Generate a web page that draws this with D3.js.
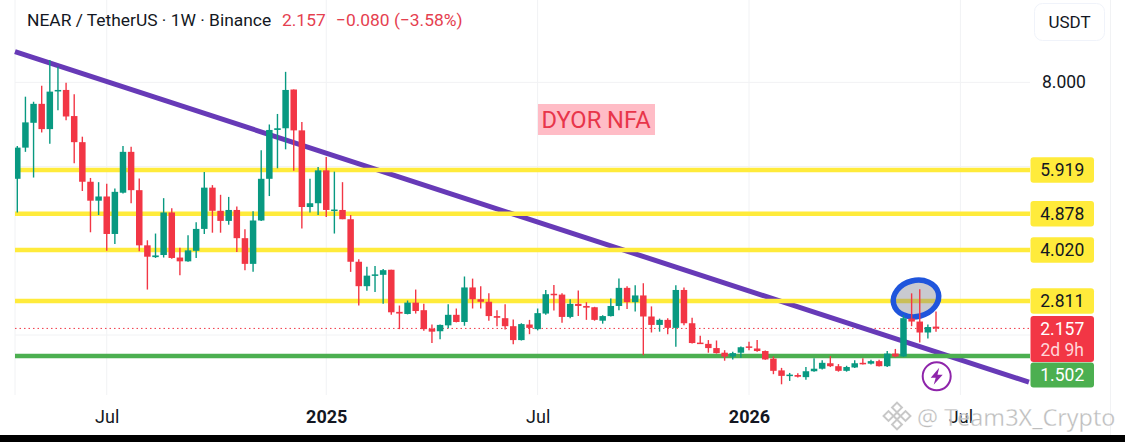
<!DOCTYPE html>
<html>
<head>
<meta charset="utf-8">
<script src="https://cdn.jsdelivr.net/npm/d3@7"></script>
<style>
	html, body {margin: 0; padding: 0; background: #fff; overflow: hidden;}
	text {font-family: Roboto, sans-serif;}
	.axis path {display: none;}
</style>
</head>
<body>
<div id="chart"></div>
<script>
var opens = [5.71,6.45,7.04,7.49,6.89,7.79,7.82,7.20,6.58,5.64,
	5.19,5.29,4.40,5.38,6.35,5.44,4.13,3.85,3.90,4.91,
	3.84,3.75,4.00,4.52,5.50,4.95,4.71,4.97,4.30,3.69,
	4.72,5.71,6.87,6.91,7.83,6.86,5.04,5.13,5.91,4.96,
	4.97,4.75,3.74,3.16,3.42,3.43,3.55,2.55,2.50,2.77,
	2.59,2.15,2.09,2.23,2.48,2.31,3.13,2.85,2.79,2.45,
	2.40,2.21,1.88,2.25,2.14,2.51,2.98,2.96,2.43,2.74,
	2.69,2.66,2.34,2.45,2.69,3.12,2.78,2.94,2.44,2.24,
	2.36,2.17,3.07,2.28,1.82,1.79,1.69,1.58,1.49,1.58,
	1.73,1.68,1.62,1.44,1.16,1.04,1.05,1.00,1.14,1.20,
	1.33,1.26,1.15,1.23,1.34,1.32,1.38,1.26,1.56,1.49,
	2.39,2.32,2.06,2.20]

var highs = [6.49,7.66,7.54,7.92,8.53,8.37,7.99,7.72,6.71,5.73,
	5.63,5.59,5.48,6.49,6.47,5.72,4.25,4.41,5.25,5.01,
	4.07,4.37,4.68,5.87,5.56,5.33,5.28,5.05,4.51,4.94,
	6.39,7.00,7.25,8.25,7.83,7.06,5.71,5.99,6.23,5.88,
	5.63,4.85,3.80,3.62,3.64,3.57,3.55,2.70,2.82,3.08,
	2.74,2.25,2.25,2.73,2.63,3.39,3.34,3.16,2.99,2.59,
	2.73,2.37,2.28,2.36,2.63,3.07,3.19,2.99,2.85,3.06,
	2.78,2.67,2.47,2.87,3.34,3.16,3.18,3.23,2.68,2.39,
	2.40,3.18,3.13,2.41,1.98,1.88,1.87,1.64,1.60,1.73,
	1.84,1.88,1.63,1.49,1.22,1.10,1.09,1.24,1.45,1.40,
	1.50,1.31,1.27,1.40,1.45,1.41,1.41,1.62,1.67,2.47,
	2.99,3.09,2.25,2.56]

var lows = [4.91,6.35,5.74,6.81,6.54,7.34,7.10,6.08,5.42,4.44,
	4.85,4.00,4.16,5.36,5.13,3.99,3.08,3.83,3.84,3.81,
	3.42,3.74,3.83,4.40,4.43,4.43,4.62,3.97,3.54,3.50,
	4.71,5.30,5.96,6.41,5.90,4.53,4.91,4.85,4.80,4.41,
	4.75,3.50,2.70,3.05,3.02,2.74,2.48,2.14,2.49,2.51,
	2.10,1.81,1.90,2.16,2.30,2.22,2.63,2.63,2.34,2.21,
	2.13,1.78,1.87,2.02,2.11,2.48,2.58,2.29,2.40,2.45,
	2.36,2.34,2.27,2.44,2.59,2.62,2.56,1.52,2.06,2.08,
	2.02,1.72,2.23,1.80,1.79,1.58,1.56,1.39,1.42,1.46,
	1.64,1.60,1.41,1.07,0.83,0.91,0.99,0.94,1.13,1.18,
	1.24,1.13,1.13,1.22,1.30,1.30,1.25,1.24,1.47,1.48,
	2.21,1.82,1.92,2.08]

var closes = [6.45,7.05,7.49,6.89,7.78,7.82,7.19,6.58,5.64,5.19,
	5.29,4.40,5.40,6.35,5.44,4.13,3.86,3.89,4.91,3.83,
	3.75,4.01,4.52,5.50,4.95,4.71,4.97,4.30,3.69,4.72,
	5.71,6.87,6.91,7.82,6.86,5.04,5.13,5.91,4.97,4.98,
	4.75,3.74,3.16,3.41,3.44,3.54,2.54,2.51,2.77,2.57,
	2.14,2.08,2.24,2.48,2.31,3.13,2.85,2.79,2.45,2.41,
	2.21,1.88,2.26,2.17,2.52,2.97,2.95,2.43,2.74,2.69,
	2.65,2.36,2.45,2.69,3.12,2.78,2.94,2.44,2.24,2.36,
	2.17,3.07,2.28,1.81,1.80,1.69,1.57,1.49,1.57,1.71,
	1.70,1.62,1.42,1.15,1.03,1.06,1.01,1.14,1.20,1.34,
	1.26,1.15,1.24,1.33,1.31,1.38,1.26,1.56,1.49,2.40,
	2.32,2.06,2.19,2.157]

var levels = [5.919, 4.878, 4.020, 2.811]
var support = 1.502
var lastPrice = 2.157
var gridPrices = [8, 6, 4, 2]
var axisPrices = [8]

var tickDates = [new Date(Date.UTC(2024,6,1)), new Date(Date.UTC(2025,0,6)), new Date(Date.UTC(2025,6,7)),
	new Date(Date.UTC(2026,0,5)), new Date(Date.UTC(2026,6,6))]
var tickLabels = ["Jul", "2025", "Jul", "2026", "Jul"]

var trendDates = [new Date(Date.UTC(2024,3,13)), new Date(Date.UTC(2026,8,3))]
var trendPrices = [8.73, 0.88]

// weekly candles, first one is the week of 15 Apr 2024
var weeks = d3.utcMonday.range(new Date(Date.UTC(2024,3,15)), new Date(Date.UTC(2026,5,16)))

var w = 1125,
	h = 442,
	left = 15,
	right = 1030,
	bodyWidth = 6.5;

var cRed    = "#F23645",
	cGreen  = "#089981",
	cYellow = "#FFEB3B",
	cLevel  = "#4CAF50",
	cPurple = "#673AB7",
	cGrid   = "#F1F2F4",
	cText   = "#131722";

var x = d3.scaleUtc()
	.domain([weeks[0], tickDates[4]])
	.range([17.3, 960.4])

var y = d3.scaleLinear()
	.domain([support, levels[0]])
	.range([356, 170])

var svg = d3.select("#chart")
	.append("svg")
	.attr("width", w)
	.attr("height", h)
	.style("display", "block")

svg.append("clipPath")
	.attr("id", "plot")
	.append("rect")
	.attr("x", left)
	.attr("y", 0)
	.attr("width", right - left)
	.attr("height", 395)

// grid
svg.append("g").selectAll("line")
	.data(gridPrices)
	.enter()
	.append("line")
	.attr("x1", left)
	.attr("x2", right)
	.attr("y1", function(d){ return y(d) })
	.attr("y2", function(d){ return y(d) })
	.attr("stroke", cGrid)
	.attr("stroke-width", 1)

svg.append("g").selectAll("line")
	.data(tickDates)
	.enter()
	.append("line")
	.attr("x1", function(d){ return x(d) })
	.attr("x2", function(d){ return x(d) })
	.attr("y1", 0)
	.attr("y2", 395)
	.attr("stroke", cGrid)
	.attr("stroke-width", 1)

svg.append("line")
	.attr("x1", left).attr("x2", left).attr("y1", 0).attr("y2", 395)
	.attr("stroke", cGrid)
svg.append("line")
	.attr("x1", 1110.5).attr("x2", 1110.5).attr("y1", 0).attr("y2", 435)
	.attr("stroke", cGrid)

// last price dotted line
svg.append("line")
	.attr("x1", left)
	.attr("x2", right)
	.attr("y1", y(lastPrice))
	.attr("y2", y(lastPrice))
	.attr("stroke", cRed)
	.attr("stroke-width", 1)
	.attr("stroke-dasharray", "1.5,3")

// trend line sits under the horizontals
svg.append("line")
	.attr("x1", x(trendDates[0]))
	.attr("y1", y(trendPrices[0]))
	.attr("x2", x(trendDates[1]))
	.attr("y2", y(trendPrices[1]))
	.attr("stroke", cPurple)
	.attr("stroke-width", 5)

svg.append("g").selectAll("line")
	.data(levels)
	.enter()
	.append("line")
	.attr("x1", left)
	.attr("x2", right)
	.attr("y1", function(d){ return y(d) })
	.attr("y2", function(d){ return y(d) })
	.attr("stroke", cYellow)
	.attr("stroke-width", 4.5)

svg.append("line")
	.attr("x1", left)
	.attr("x2", right)
	.attr("y1", y(support))
	.attr("y2", y(support))
	.attr("stroke", cLevel)
	.attr("stroke-width", 4.5)

// highlight ellipse, dims the level but not the candles
svg.append("ellipse")
	.attr("cx", 916)
	.attr("cy", 298.5)
	.attr("rx", 23)
	.attr("ry", 18)
	.attr("transform", "rotate(-14 916 298.5)")
	.attr("fill", "#787B86")
	.attr("fill-opacity", 0.4)
	.attr("stroke", "#1F55DC")
	.attr("stroke-width", 5.5)

// candles
var candles = svg.append("g")
	.attr("clip-path", "url(#plot)")
	.selectAll("g")
	.data(weeks)
	.enter()
	.append("g")

function candleColor(i){
	return closes[i] >= opens[i] ? cGreen : cRed
}

candles.append("line")
	.attr("x1", function(d){ return x(d) })
	.attr("x2", function(d){ return x(d) })
	.attr("y1", function(d,i){ return y(highs[i]) })
	.attr("y2", function(d,i){ return y(lows[i]) })
	.attr("stroke", function(d,i){ return candleColor(i) })
	.attr("stroke-width", 1.4)

candles.append("rect")
	.attr("x", function(d){ return x(d) - bodyWidth/2 })
	.attr("width", bodyWidth)
	.attr("y", function(d,i){ return y(Math.max(opens[i], closes[i])) })
	.attr("height", function(d,i){ return Math.max(1.5, Math.abs(y(opens[i]) - y(closes[i]))) })
	.attr("fill", function(d,i){ return candleColor(i) })

// axes
var xAxis = svg.append("g")
	.attr("class", "axis")
	.attr("transform", "translate(0,407)")
	.call(d3.axisBottom(x)
		.tickValues(tickDates)
		.tickSize(0)
		.tickFormat(function(d,i){ return tickLabels[i] }))

xAxis.selectAll("text")
	.attr("font-size", 18)
	.attr("fill", cText)
	.style("font-family", "Roboto, sans-serif")
	.style("font-weight", function(d,i){ return tickLabels[i].length > 3 ? 700 : 400 })

var yAxis = svg.append("g")
	.attr("class", "axis")
	.attr("transform", "translate(1039,0)")
	.call(d3.axisRight(y)
		.tickValues(axisPrices)
		.tickSize(0)
		.tickFormat(d3.format(".3f")))

yAxis.selectAll("text")
	.attr("font-size", 17.5)
	.attr("fill", cText)
	.style("font-family", "Roboto, sans-serif")

// price tags
var tagX = 1030.5,
	tagW = 63.5,
	tagH = 25.5;

svg.append("g").selectAll("rect")
	.data(levels)
	.enter()
	.append("rect")
	.attr("x", tagX)
	.attr("y", function(d){ return y(d) - tagH/2 })
	.attr("width", tagW)
	.attr("height", tagH)
	.attr("rx", 3)
	.attr("fill", cYellow)

svg.append("g").selectAll("text")
	.data(levels)
	.enter()
	.append("text")
	.attr("x", tagX + tagW/2)
	.attr("y", function(d){ return y(d) })
	.attr("dy", "0.36em")
	.attr("text-anchor", "middle")
	.attr("font-size", 17.5)
	.attr("fill", cText)
	.text(function(d){ return d3.format(".3f")(d) })

svg.append("rect")
	.attr("x", tagX).attr("y", y(lastPrice) - 12.5)
	.attr("width", tagW).attr("height", 46)
	.attr("rx", 3)
	.attr("fill", cRed)

svg.append("text")
	.attr("x", tagX + tagW/2).attr("y", y(lastPrice))
	.attr("dy", "0.36em")
	.attr("text-anchor", "middle")
	.attr("font-size", 17.5)
	.attr("fill", "#fff")
	.text(d3.format(".3f")(lastPrice))

svg.append("text")
	.attr("x", tagX + tagW/2).attr("y", y(lastPrice) + 21)
	.attr("dy", "0.36em")
	.attr("text-anchor", "middle")
	.attr("font-size", 17.5)
	.attr("fill", "#FFD5D9")
	.text("2d 9h")

svg.append("rect")
	.attr("x", tagX).attr("y", y(support) + 6.5)
	.attr("width", tagW).attr("height", 25)
	.attr("rx", 3)
	.attr("fill", cLevel)

svg.append("text")
	.attr("x", tagX + tagW/2).attr("y", y(support) + 19)
	.attr("dy", "0.36em")
	.attr("text-anchor", "middle")
	.attr("font-size", 17.5)
	.attr("fill", "#fff")
	.text(d3.format(".3f")(support))

// title
var title = svg.append("text")
	.attr("x", 27)
	.attr("y", 26)
	.attr("font-size", 17.4)

title.append("tspan")
	.attr("fill", cText)
	.text("NEAR / TetherUS · 1W · Binance")
title.append("tspan")
	.attr("x", 282)
	.attr("fill", "#E5404F")
	.text("2.157")
title.append("tspan")
	.attr("x", 336)
	.attr("fill", "#E5404F")
	.text("−0.080 (−3.58%)")

// currency button
svg.append("rect")
	.attr("x", 1034.5).attr("y", 3.5)
	.attr("width", 70).attr("height", 37)
	.attr("rx", 8)
	.attr("fill", "#fff")
	.attr("stroke", "#F0F3FA")

svg.append("text")
	.attr("x", 1069.5).attr("y", 21.5)
	.attr("dy", "0.36em")
	.attr("text-anchor", "middle")
	.attr("font-size", 17)
	.attr("fill", cText)
	.text("USDT")

// note
svg.append("rect")
	.attr("x", 538).attr("y", 104)
	.attr("width", 117).attr("height", 31)
	.attr("fill", "#FFBCC6")

svg.append("text")
	.attr("x", 596).attr("y", 119.5)
	.attr("dy", "0.36em")
	.attr("text-anchor", "middle")
	.attr("font-size", 23.7)
	.attr("fill", "#E8354A")
	.text("DYOR NFA")

// lightning badge
var badge = svg.append("g")
	.attr("transform", "translate(936.7,376.3)")

badge.append("circle")
	.attr("r", 14)
	.attr("fill", "#fff")
	.attr("stroke", "#8E24AA")
	.attr("stroke-width", 2)

badge.append("path")
	.attr("d", "M2.5,-8.5 L-6,1.5 L-1,1.5 L-3,8.5 L6,-1.5 L0.8,-1.5 Z")
	.attr("fill", "#8E24AA")

// watermark
var mark = svg.append("g")
	.attr("fill", "#B4B4B4")
	.attr("fill-opacity", 0.9)
	.attr("stroke", "#fff")
	.attr("stroke-width", 0.3)

var logo = mark.append("g")
	.attr("transform", "translate(897,416)")

var logoSpots = [[0,-8.5,7],[0,8.5,7],[-8.5,0,7],[8.5,0,7],[0,0,5]]
logo.selectAll("rect")
	.data(logoSpots)
	.enter()
	.append("rect")
	.attr("x", function(d){ return d[0] - d[2]/2 })
	.attr("y", function(d){ return d[1] - d[2]/2 })
	.attr("width", function(d){ return d[2] })
	.attr("height", function(d){ return d[2] })
	.attr("fill", "#fff")
	.attr("stroke", "#C8C8C8")
	.attr("stroke-width", 2)
	.attr("transform", function(d){ return "rotate(45 " + d[0] + " " + d[1] + ")" })

mark.append("text")
	.attr("x", 917)
	.attr("y", 425.5)
	.attr("font-size", 23.5)
	.style("font-family", "'Open Sans', sans-serif")
	.text("@ Team3X_Crypto")

// black strip at the bottom of the screenshot
svg.append("rect")
	.attr("x", 0).attr("y", 435)
	.attr("width", w).attr("height", 7)
	.attr("fill", "#000")
</script>
</body>
</html>
